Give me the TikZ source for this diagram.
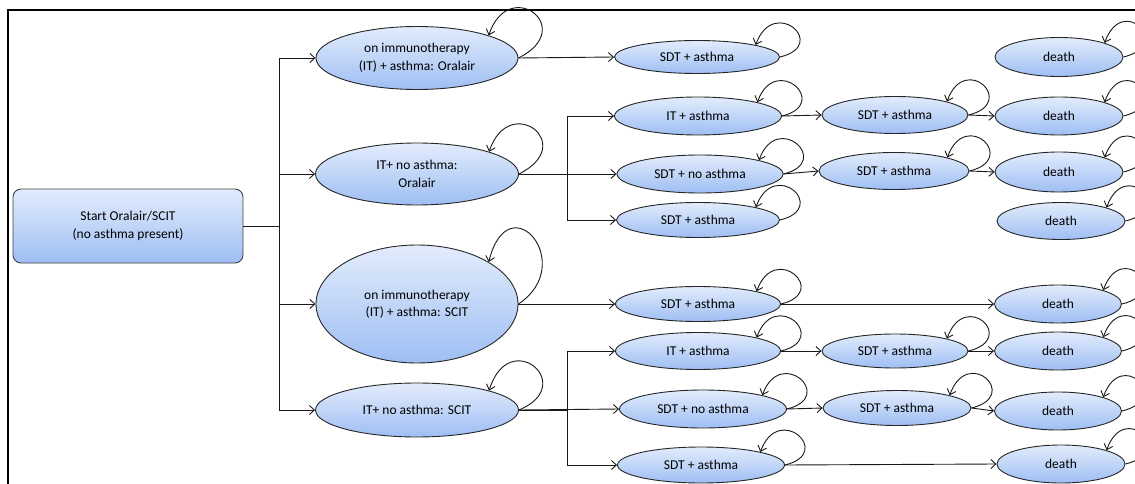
\documentclass[tikz,border=0pt]{standalone}
\usepackage{fontspec}
\setmainfont{Carlito}
\usetikzlibrary{shapes}
\usetikzlibrary{arrows.meta}

\definecolor{stateTop}{RGB}{226,236,252}
\definecolor{stateBot}{RGB}{158,190,243}

\tikzset{
  state/.style={ellipse, draw=black!85, line width=0.9pt, top color=stateTop, bottom color=stateBot,
    inner sep=0pt, align=center, font=\fontsize{13.5}{17.5}\selectfont},
  startbox/.style={rectangle, rounded corners=8pt, draw=black!75, line width=0.9pt, top color=stateTop,
    bottom color=stateBot, align=center, font=\fontsize{13.5}{17.5}\selectfont},
  link/.style={draw=black!90, line width=0.9pt, -{Straight Barb[length=5pt,width=9pt]}}
}

\begin{document}
\begin{tikzpicture}[x=1pt,y=-1pt]
\useasboundingbox (0,0) rectangle (1135,484);

%frame
\draw[line width=2pt] (8,490) -- (8,10) -- (1140,10);

%start
\node[startbox, minimum width=230pt, minimum height=74pt] (start) at (128,226) {Start Oralair/SCIT\\(no asthma present)};

%treatment states
\node[state, minimum width=202pt, minimum height=63pt] (aOA) at (417,58) {on immunotherapy\\(IT) + asthma: Oralair};
\node[state, minimum width=203pt, minimum height=62pt] (nOA) at (417,174) {IT+ no asthma:\\Oralair};
\node[state, minimum width=202pt, minimum height=118pt] (aSC) at (417,304) {on immunotherapy\\(IT) + asthma: SCIT};
\node[state, minimum width=203pt, minimum height=54pt] (nSC) at (417,410) {IT+ no asthma: SCIT};

%second states
\node[state, minimum width=165pt, minimum height=33pt] (sdtA1) at (697,57) {SDT + asthma};
\node[state, minimum width=167pt, minimum height=38pt] (itA2) at (698,116) {IT + asthma};
\node[state, minimum width=166pt, minimum height=38pt] (sdtN3) at (700,174) {SDT + no asthma};
\node[state, minimum width=163pt, minimum height=35pt] (sdtA4) at (698,220) {SDT + asthma};
\node[state, minimum width=165pt, minimum height=35pt] (sdtA5) at (698,304) {SDT + asthma};
\node[state, minimum width=165pt, minimum height=37pt] (itA6) at (698,351) {IT + asthma};
\node[state, minimum width=167pt, minimum height=38pt] (sdtN7) at (703,409) {SDT + no asthma};
\node[state, minimum width=167pt, minimum height=36pt] (sdtA8) at (701,465) {SDT + asthma};

%third states
\node[state, minimum width=146pt, minimum height=37pt] (sdtB2) at (895,115) {SDT + asthma};
\node[state, minimum width=150pt, minimum height=37pt] (sdtB3) at (894,171) {SDT + asthma};
\node[state, minimum width=146pt, minimum height=34pt] (sdtB6) at (895,351) {SDT + asthma};
\node[state, minimum width=148pt, minimum height=35pt] (sdtB7) at (897,408) {SDT + asthma};

%death
\node[state, minimum width=128pt, minimum height=39pt] (death1) at (1059,57) {death};
\node[state, minimum width=128pt, minimum height=38pt] (death2) at (1059,116) {death};
\node[state, minimum width=128pt, minimum height=40pt] (death3) at (1059,172) {death};
\node[state, minimum width=128pt, minimum height=37pt] (death4) at (1061,221) {death};
\node[state, minimum width=127pt, minimum height=38pt] (death5) at (1058,304) {death};
\node[state, minimum width=127pt, minimum height=38pt] (death6) at (1058,351) {death};
\node[state, minimum width=127pt, minimum height=38pt] (death7) at (1058,411) {death};
\node[state, minimum width=128pt, minimum height=38pt] (death8) at (1061,464) {death};

%branch points
\coordinate (trunk) at (279,226);
\coordinate (splitOA) at (567,174);
\coordinate (splitSC) at (567,410);

%first split
\draw[link] (start.east) -- (trunk) |- (aOA.west);
\draw[link] (start.east) -- (trunk) |- (nOA.west);
\draw[link] (start.east) -- (trunk) |- (aSC.west);
\draw[link] (start.east) -- (trunk) |- (nSC.west);

%Oralair branch
\draw[link] (aOA.east) -- (sdtA1.west);
\draw[link] (nOA.east) -- (splitOA) |- (itA2.west);
\draw[link] (nOA.east) -- (sdtN3.west);
\draw[link] (nOA.east) -- (splitOA) |- (sdtA4.west);
\draw[link] (itA2.east) -- (sdtB2.west);
\draw[link] (sdtN3.east) -- (sdtB3.west);
\draw[link] (sdtB2.east) -- (death2.west);
\draw[link] (sdtB3.east) -- (death3.west);

%SCIT branch
\draw[link] (aSC.east) -- (sdtA5.west);
\draw[link] (nSC.east) -- (splitSC) |- (itA6.west);
\draw[link] (nSC.east) -- (sdtN7.west);
\draw[link] (nSC.east) -- (splitSC) |- (sdtA8.west);
\draw[link] (itA6.east) -- (sdtB6.west);
\draw[link] (sdtN7.east) -- (sdtB7.west);
\draw[link] (sdtA5.east) -- (death5.west);
\draw[link] (sdtA8.east) -- (death8.west);
\draw[link] (sdtB6.east) -- (death6.west);
\draw[link] (sdtB7.east) -- (death7.west);

%self loops, large
\draw[link] (aOA.east) .. controls +(60,-30) and +(20,-60) .. (aOA.north east);
\draw[link] (nOA.east) .. controls +(60,-30) and +(20,-60) .. (nOA.north east);
\draw[link] (aSC.east) .. controls +(60,-40) and +(20,-80) .. (aSC.north east);
\draw[link] (nSC.east) .. controls +(60,-25) and +(20,-65) .. (nSC.north east);
%self loops, small
\draw[link] (sdtA1.east) .. controls +(50,-12) and +(18,-50) .. (sdtA1.north east);
\draw[link] (itA2.east) .. controls +(50,-12) and +(18,-50) .. (itA2.north east);
\draw[link] (sdtN3.east) .. controls +(50,-12) and +(18,-50) .. (sdtN3.north east);
\draw[link] (sdtA4.east) .. controls +(50,-12) and +(18,-50) .. (sdtA4.north east);
\draw[link] (sdtA5.east) .. controls +(50,-12) and +(18,-50) .. (sdtA5.north east);
\draw[link] (itA6.east) .. controls +(50,-12) and +(18,-50) .. (itA6.north east);
\draw[link] (sdtN7.east) .. controls +(50,-12) and +(18,-50) .. (sdtN7.north east);
\draw[link] (sdtA8.east) .. controls +(50,-12) and +(18,-50) .. (sdtA8.north east);
\draw[link] (sdtB2.east) .. controls +(50,-12) and +(18,-50) .. (sdtB2.north east);
\draw[link] (sdtB3.east) .. controls +(50,-12) and +(18,-50) .. (sdtB3.north east);
\draw[link] (sdtB6.east) .. controls +(50,-12) and +(18,-50) .. (sdtB6.north east);
\draw[link] (sdtB7.east) .. controls +(50,-12) and +(18,-50) .. (sdtB7.north east);
\draw[link] (death1.east) .. controls +(50,-12) and +(18,-50) .. (death1.north east);
\draw[link] (death2.east) .. controls +(50,-12) and +(18,-50) .. (death2.north east);
\draw[link] (death3.east) .. controls +(50,-12) and +(18,-50) .. (death3.north east);
\draw[link] (death4.east) .. controls +(50,-12) and +(18,-50) .. (death4.north east);
\draw[link] (death5.east) .. controls +(50,-12) and +(18,-50) .. (death5.north east);
\draw[link] (death6.east) .. controls +(50,-12) and +(18,-50) .. (death6.north east);
\draw[link] (death7.east) .. controls +(50,-12) and +(18,-50) .. (death7.north east);
\draw[link] (death8.east) .. controls +(50,-12) and +(18,-50) .. (death8.north east);

\end{tikzpicture}
\end{document}
